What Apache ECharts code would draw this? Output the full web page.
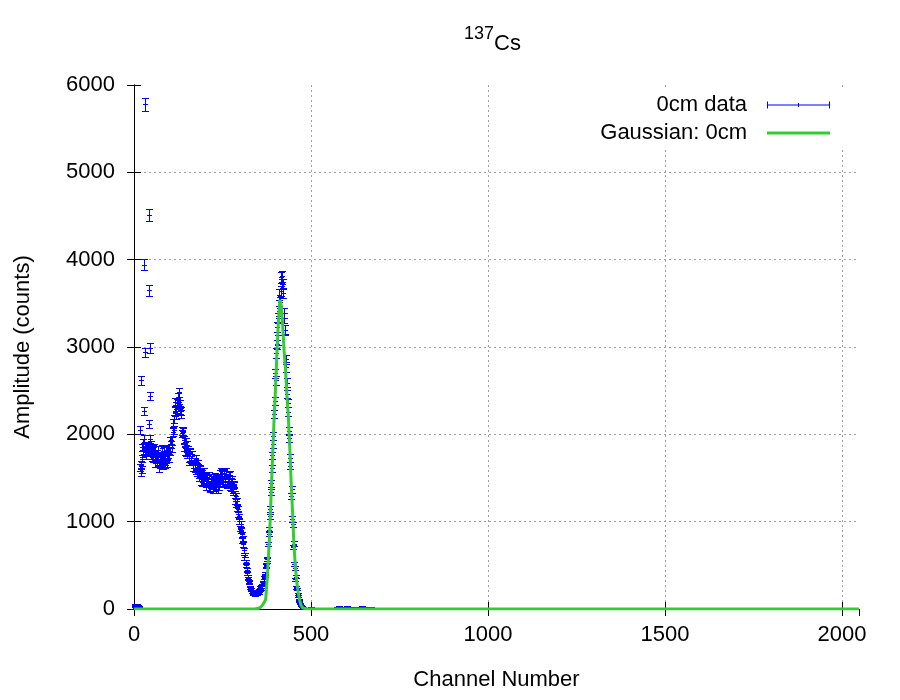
<!DOCTYPE html>
<html style="height: 100%">
<head>
    <meta charset="utf-8">
    <script src="https://cdn.jsdelivr.net/npm/echarts@6/dist/echarts.min.js"></script>
</head>
<body style="height: 100%;margin: 0">
<div id="chart" style="width: 900px; height: 700px;"></div>
<script type="text/javascript">
// channel grids (regular MCA channel numbers)
function range(start, step, n) {
    var out = [];
    for (var i = 0; i < n; i++) out.push(start + i * step);
    return out;
}

// ch 0..50, one by one
var lowChannels = range(0, 1, 51);
var lowCounts = [0, 0, 30, 55, 40, 20, 50, 35, 45, 25, 40, 15, 30, 20, 10, 25, 5,
    1620, 2050, 1560, 2620, 1650, 1720, 1850, 1600, 1780, 1900, 2270, 3940, 1950,
    2940, 1870, 5780, 1820, 1760, 1800, 1850, 1790, 1870, 1800, 1840, 4510, 3650,
    2120, 2990, 2440, 1950, 1880, 1820, 1760, 1800];

// ch 51..480, every 3rd channel
var mainChannelsA = range(51, 3, 144);
var mainCountsA = [
    1850, 1720, 1850, 1670, 1750, 1740, 1760, 1680, 1750, 1700, 1710, 1810, 1690, 1820, 1670, 1830,
    1840, 1810, 1930, 1920, 2130, 2180, 2370, 2290, 2420, 2340, 2350, 2270, 2040, 2040, 1850, 1910,
    1910, 1770, 1820, 1690, 1790, 1690, 1770, 1620, 1690, 1580, 1630, 1660, 1540, 1610, 1460, 1550,
    1570, 1460, 1520, 1400, 1510, 1450, 1530, 1390, 1490, 1370, 1460, 1520, 1400, 1510, 1360, 1500,
    1550, 1470, 1560, 1450, 1550, 1460, 1580, 1420, 1530, 1400, 1460, 1490, 1370, 1430, 1240, 1290,
    1240, 1090, 1060, 920, 900, 780, 740, 590, 540, 410, 365, 315, 245, 228, 192, 188,
    182, 166, 178, 172, 201, 212, 252, 262, 308, 326, 404, 500, 568, 744, 860, 1140,
    1440, 1610, 1980, 2230, 2700, 2930, 3230, 3330, 3600, 3640, 3810, 3720, 3390, 3200, 2770, 2590,
    2360, 1960, 1730, 1290, 1030, 710, 520, 340, 250, 150, 104, 64, 38, 27, 13, 11];

// ch 52..481, every 3rd channel
var mainChannelsB = range(52, 3, 144);
var mainCountsB = [
    1740, 1830, 1760, 1780, 1670, 1820, 1610, 1750, 1670, 1840, 1640, 1770, 1660, 1810, 1760, 1730,
    1730, 1920, 1840, 2030, 2050, 2260, 2220, 2360, 2340, 2480, 2280, 2230, 2010, 2030, 1940, 1810,
    1800, 1880, 1730, 1800, 1710, 1770, 1620, 1690, 1610, 1720, 1560, 1620, 1510, 1600, 1550, 1450,
    1460, 1570, 1430, 1510, 1430, 1530, 1380, 1460, 1410, 1510, 1390, 1480, 1370, 1500, 1450, 1400,
    1440, 1580, 1470, 1560, 1470, 1540, 1430, 1490, 1450, 1540, 1390, 1450, 1340, 1420, 1310, 1200,
    1160, 1150, 1010, 975, 855, 810, 670, 615, 505, 450, 350, 306, 240, 226, 202, 178,
    171, 178, 169, 185, 191, 224, 228, 275, 292, 360, 385, 495, 555, 745, 910, 1060,
    1340, 1760, 1890, 2380, 2620, 3030, 3080, 3410, 3510, 3800, 3720, 3620, 3330, 3190, 2860, 2460,
    2260, 2040, 1640, 1370, 970, 750, 470, 370, 230, 170, 95, 63, 37, 27, 16, 8];

// ch 483..699, every 6th channel
var tailChannels = range(483, 6, 37);
var tailCounts = [8, 12, 6, 14, 9, 5, 11, 7, 13, 4, 10, 8, 6, 12, 9, 18, 24, 11, 20, 8, 26, 6, 15,
    22, 7, 19, 8, 25, 6, 14, 7, 21, 2, 9, 4, 3, 5];

// ch 720..2040, every 40th channel
var farChannels = range(720, 40, 34);
var farCounts = [2, 1, 3, 0, 2, 1, 0, 2, 1, 0, 1, 0, 2, 0, 1, 0, 0, 1, 0, 0, 1, 0, 0, 0, 1, 0, 0, 0,
    0, 1, 0, 0, 0, 0];

// fitted gaussian as drawn
var gaussChannels = [0, 340, 350, 356, 362, 367, 372, 376, 380, 384, 388, 392, 396, 400, 404, 408,
    412, 416, 420, 424, 428, 432, 436, 440, 444, 448, 452, 456, 460, 464, 468, 472, 476, 482, 490, 2048];
var gaussCounts = [0, 0, 5, 15, 40, 70, 110, 330, 600, 940, 1380, 1800, 2200, 2550, 2950, 3300,
    3540, 3480, 3250, 2950, 2750, 2450, 2200, 1850, 1450, 1100, 720, 480, 300, 190, 100, 40, 15, 5, 0, 0];

var xTicks = [0, 500, 1000, 1500, 2000];
var yTicks = [0, 1000, 2000, 3000, 4000, 5000, 6000];

var channels = lowChannels.concat(mainChannelsA, mainChannelsB, tailChannels, farChannels);
var counts = lowCounts.concat(mainCountsA, mainCountsB, tailCounts, farCounts);

var font = "'Liberation Sans', Arial, sans-serif";
var blue = '#0000ff';
var green = '#33cc33';

// errors are poisson: sqrt(counts)
var dataPoints = channels.map(function (c, i) {
    return [c, counts[i], Math.sqrt(counts[i])];
});
var gaussPoints = gaussChannels.map(function (c, i) {
    return [c, gaussCounts[i]];
});

function crisp(v) {
    return Math.round(v) + 0.5;
}

function renderErrorBar(params, api) {
    var x = api.value(0), y = api.value(1), e = api.value(2);
    var top = api.coord([x, y + e]);
    var bot = api.coord([x, y - e]);
    var mid = api.coord([x, y]);
    var px = crisp(top[0]);
    var yt = crisp(top[1]), yb = crisp(bot[1]), ym = crisp(mid[1]);
    var w = 3.5;
    var style = {stroke: blue, lineWidth: 1, fill: null};
    return {
        type: 'group',
        children: [
            {type: 'line', shape: {x1: px, y1: yt, x2: px, y2: yb}, style: style},
            {type: 'line', shape: {x1: px - w, y1: yt, x2: px + w, y2: yt}, style: style},
            {type: 'line', shape: {x1: px - w, y1: yb, x2: px + w, y2: yb}, style: style},
            {type: 'line', shape: {x1: px - 2.5, y1: ym, x2: px + 2.5, y2: ym}, style: style}
        ]
    };
}

var gridLine = {show: true, showMinLine: false, showMaxLine: false,
    lineStyle: {color: '#a0a0a0', type: [2, 3], width: 1}};
var tickStyle = {show: true, inside: true, length: 7, lineStyle: {color: '#000'}};
var lineStyleBlack = {show: true, lineStyle: {color: '#000', width: 1}};
var legendText = {fontFamily: font, fontSize: 22, color: '#000', padding: [0, 15, 0, 0], lineHeight: 26};

var myChart = echarts.init(document.getElementById('chart'));
var option = {
    animation: false,
    backgroundColor: '#fff',
    title: {
        text: '{a|137}{b|Cs}',
        left: 459,
        top: 20,
        textStyle: {
            fontFamily: font,
            fontWeight: 'normal',
            rich: {
                a: {fontSize: 18, fontFamily: font, fontWeight: 'normal', color: '#000',
                    verticalAlign: 'top', lineHeight: 30},
                b: {fontSize: 22, fontFamily: font, fontWeight: 'normal', color: '#000',
                    verticalAlign: 'bottom', lineHeight: 30}
            }
        }
    },
    legend: [{
        right: 50,
        top: 89,
        align: 'right',
        padding: [3, 20, 3, 10],
        backgroundColor: '#fff',
        itemWidth: 63,
        itemHeight: 7,
        selectedMode: false,
        textStyle: legendText,
        data: [{name: '0cm data',
            icon: 'path://M0,0h1v7h-1z M1,3h61v1h-61z M62,0h1v7h-1z M31,1.5h1v4h-1z'}]
    }, {
        right: 50,
        top: 117,
        align: 'right',
        padding: [3, 20, 3, 10],
        backgroundColor: '#fff',
        itemWidth: 63,
        itemHeight: 3,
        selectedMode: false,
        textStyle: legendText,
        data: [{name: 'Gaussian: 0cm', icon: 'path://M0,0h63v3h-63z'}]
    }],
    grid: {left: 134, right: 41, top: 85, bottom: 91},
    xAxis: [{
        type: 'value',
        min: xTicks[0],
        max: 2048,
        interval: xTicks[1] - xTicks[0],
        axisLine: lineStyleBlack,
        axisTick: tickStyle,
        splitLine: gridLine,
        axisLabel: {fontFamily: font, fontSize: 22, color: '#000', margin: 15, showMaxLabel: false,
            formatter: function (v) { return xTicks.indexOf(v) >= 0 ? String(v) : ''; }},
        name: 'Channel Number',
        nameLocation: 'middle',
        nameGap: 60,
        nameTextStyle: {fontFamily: font, fontSize: 22, color: '#000'}
    }, {
        type: 'value',
        position: 'top',
        min: xTicks[0],
        max: 2048,
        interval: xTicks[1] - xTicks[0],
        axisLine: lineStyleBlack,
        axisTick: tickStyle,
        splitLine: {show: false},
        axisLabel: {show: false}
    }],
    yAxis: [{
        type: 'value',
        min: yTicks[0],
        max: yTicks[yTicks.length - 1],
        interval: yTicks[1] - yTicks[0],
        axisLine: lineStyleBlack,
        axisTick: tickStyle,
        splitLine: gridLine,
        axisLabel: {fontFamily: font, fontSize: 22, color: '#000', margin: 19,
            formatter: function (v) { return String(v); }},
        name: 'Amplitude (counts)',
        nameLocation: 'middle',
        nameGap: 100,
        nameTextStyle: {fontFamily: font, fontSize: 22, color: '#000'}
    }, {
        type: 'value',
        position: 'right',
        min: yTicks[0],
        max: yTicks[yTicks.length - 1],
        interval: yTicks[1] - yTicks[0],
        axisLine: lineStyleBlack,
        axisTick: tickStyle,
        splitLine: {show: false},
        axisLabel: {show: false}
    }],
    series: [{
        name: '0cm data',
        type: 'custom',
        renderItem: renderErrorBar,
        itemStyle: {color: blue},
        encode: {x: 0, y: 1},
        data: dataPoints,
        z: 2
    }, {
        name: 'Gaussian: 0cm',
        type: 'line',
        data: gaussPoints,
        showSymbol: false,
        itemStyle: {color: green},
        lineStyle: {color: green, width: 3},
        z: 3
    }]
};
myChart.setOption(option);
</script>
</body>
</html>
